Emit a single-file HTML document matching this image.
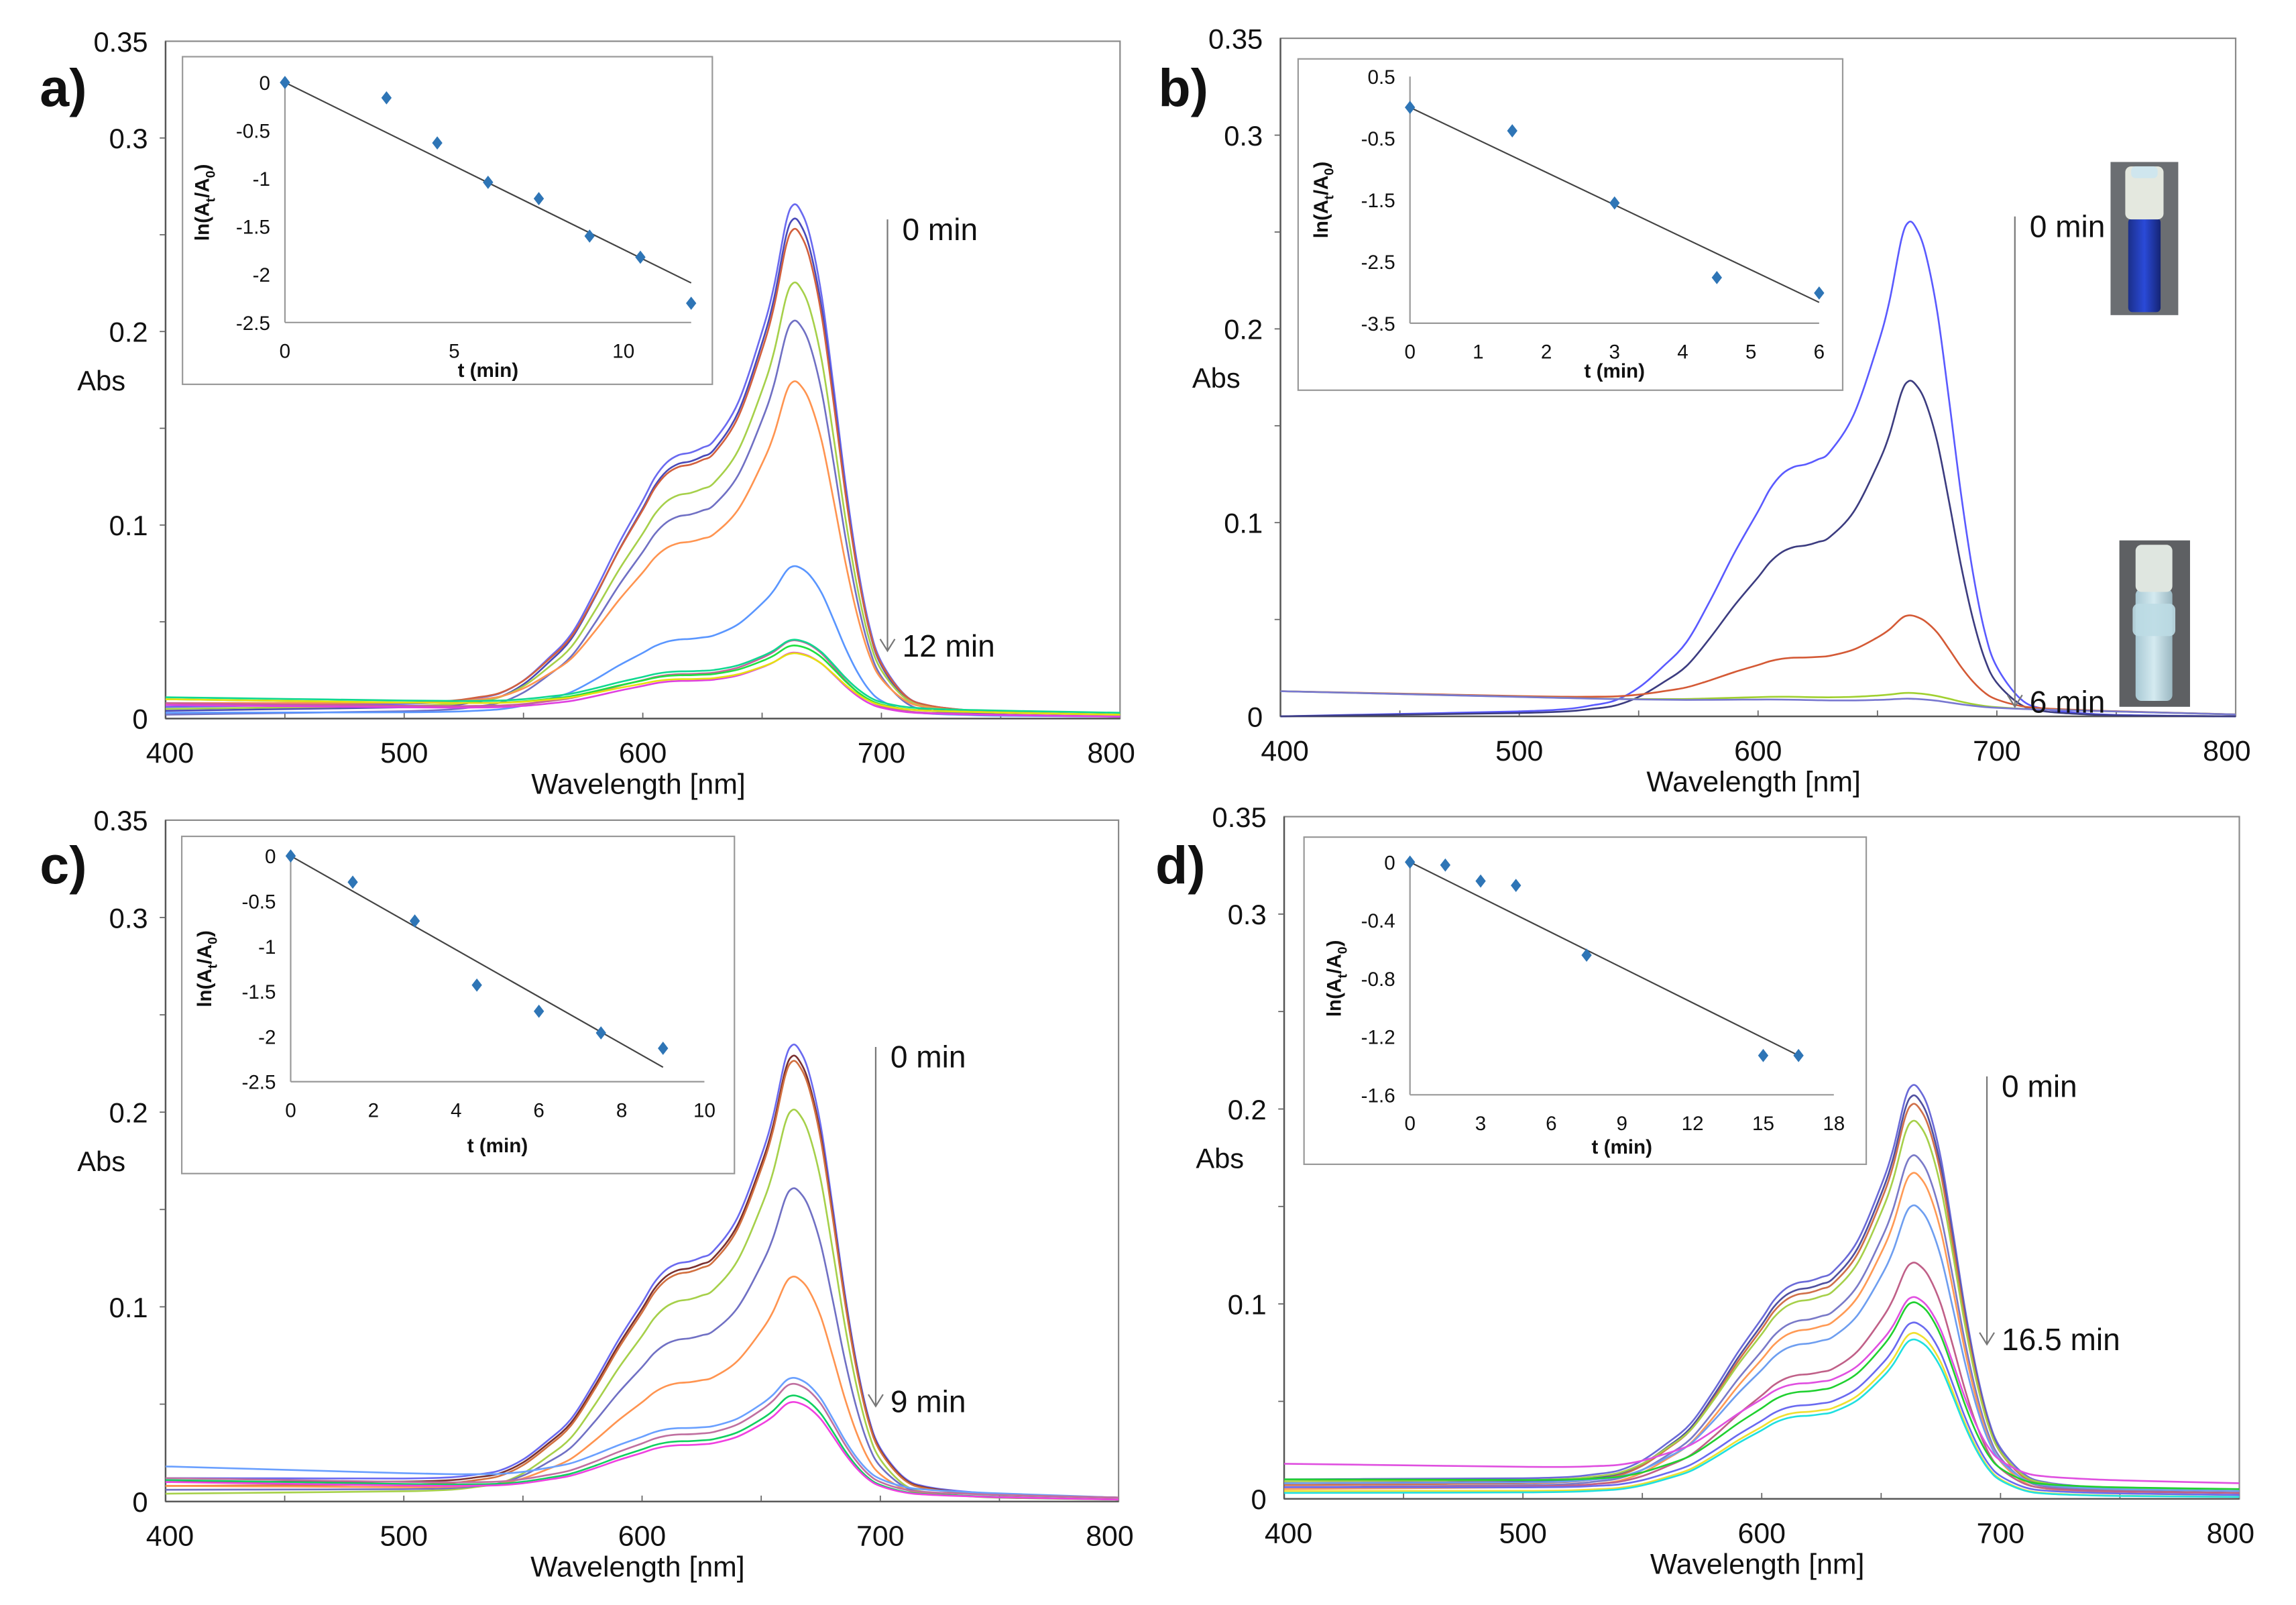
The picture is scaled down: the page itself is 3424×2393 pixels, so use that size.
<!DOCTYPE html>
<html><head><meta charset="utf-8"><style>
html,body{margin:0;padding:0;background:#fff;}
svg{display:block;}
text{font-family:"Liberation Sans",Arial,sans-serif;}
</style></head><body>
<svg id="fig" xmlns="http://www.w3.org/2000/svg" width="3424" height="2393" viewBox="0 0 1560 1090" preserveAspectRatio="none">
<rect x="0" y="0" width="1560" height="1090" fill="#fff"/>
<defs>
<linearGradient id="vialBlue" x1="0" y1="0" x2="1" y2="0"><stop offset="0" stop-color="#1b2f8a"/><stop offset="0.5" stop-color="#2a4ad8"/><stop offset="1" stop-color="#152474"/></linearGradient>
<linearGradient id="vialPale" x1="0" y1="0" x2="1" y2="0"><stop offset="0" stop-color="#a9c9d4"/><stop offset="0.5" stop-color="#d4eaf0"/><stop offset="1" stop-color="#9bb8c2"/></linearGradient>
</defs>
<g id="vials">
 <rect x="1434" y="110" width="46" height="104" fill="#6b6e72"/>
 <rect x="1446" y="148" width="22" height="64" rx="3" fill="url(#vialBlue)"/>
 <rect x="1444" y="113" width="26" height="36" rx="4" fill="#e4e8df"/>
 <rect x="1448" y="113" width="18" height="8" rx="3" fill="#cfe6ee"/>
 <rect x="1440" y="367" width="48" height="113" fill="#5e6063"/>
 <rect x="1451" y="400" width="25" height="76" rx="4" fill="url(#vialPale)"/>
 <rect x="1451" y="370" width="25" height="32" rx="4" fill="#dfe6e0"/>
 <rect x="1449" y="410" width="29" height="22" rx="4" fill="#bcdbe4" opacity="0.9"/>
</g>
</svg>
<script>
// ---------- common spectral shape ----------
const wl = [400,450,500,520,530,540,550,560,570,580,590,600,605,610,615,620,625,630,640,650,655,660,663,666,670,675,680,685,690,695,700,710,720,740,760,800];
const bandShape = [0,0.005,0.01,0.015,0.022,0.032,0.058,0.1,0.15,0.235,0.33,0.415,0.46,0.49,0.505,0.51,0.52,0.535,0.61,0.75,0.84,0.965,1.0,0.99,0.94,0.82,0.64,0.45,0.29,0.17,0.1,0.035,0.015,0.005,0.002,0];

// ---------- panel a ----------
const aPeaks = [0.262,0.256,0.249,0.222,0.204,0.170,0.077,0.037,0.035,0.033,0.031,0.029];
const aBase400 = [0.006,0.004,0.007,0.005,0.002,0.008,0.003,0.008,0.011,0.010,0.007,0.010];
const aBase800 = [0.002,0.001,0.002,0.002,0.001,0.002,0.001,0.001,0.003,0.002,0.001,0.002];
const aT = [0,3,4.5,6,7.5,9,10.5,12];
const aLn = [0,-0.16,-0.63,-1.04,-1.21,-1.6,-1.82,-2.3];
const aFit = [0,-0.174];
// ---------- panel b ----------
const bPeaks = [0.255,0.173,0.047,0.007,0.004];
const bBase400 = [0.000,0.000,0.013,0.013,0.013];
const bBase800 = [0.000,0.000,0.001,0.001,0.001];
const bT = [0,1.5,3,4.5,6];
const bLn = [0,-0.38,-1.55,-2.76,-3.01];
const bFit = [0,-0.527];
// ---------- panel c ----------
const cPeaks = [0.229,0.224,0.222,0.199,0.158,0.112,0.056,0.055,0.050,0.047];
const cBase400 = [0.012,0.010,0.008,0.004,0.006,0.008,0.018,0.012,0.011,0.010];
const cBase800 = [0.002,0.002,0.002,0.001,0.001,0.001,0.002,0.002,0.001,0.001];
const cT = [0,1.5,3,4.5,6,7.5,9];
const cLn = [0,-0.29,-0.72,-1.43,-1.72,-1.96,-2.13];
const cFit = [0,-0.26];
// ---------- panel d ----------
const dPeaks = [0.206,0.202,0.198,0.188,0.172,0.164,0.145,0.117,0.094,0.092,0.087,0.083,0.080];
const dBase400 = [0.010,0.008,0.007,0.009,0.006,0.005,0.008,0.006,0.010,0.018,0.006,0.004,0.003];
const dBase800 = [0.004,0.003,0.003,0.004,0.003,0.002,0.004,0.003,0.005,0.008,0.002,0.001,0.001];
const dT = [0,1.5,3,4.5,7.5,15,16.5];
const dLn = [0,-0.02,-0.13,-0.16,-0.64,-1.33,-1.33];
const dFit = [0,-0.0806];

const NS = 'http://www.w3.org/2000/svg';
const svg = document.getElementById('fig');
function mk(tag, attrs, parent){
  const e = document.createElementNS(NS, tag);
  for (const k in attrs) e.setAttribute(k, attrs[k]);
  (parent||svg).appendChild(e);
  return e;
}
function txt(parent, x, y, s, size, anchor, weight){
  const t = mk('text', {x:x, y:y, 'font-size':size, 'text-anchor':anchor||'start', 'font-weight':weight||'normal', fill:'#111'}, parent);
  t.textContent = s;
  return t;
}
function smoothPath(p){
  let d = 'M' + p[0][0].toFixed(2) + ',' + p[0][1].toFixed(2);
  for (let i=0;i<p.length-1;i++){
    const p0 = p[Math.max(0,i-1)], p1 = p[i], p2 = p[i+1], p3 = p[Math.min(p.length-1,i+2)];
    const c1x = p1[0] + (p2[0]-p0[0])/6, c1y = p1[1] + (p2[1]-p0[1])/6;
    const c2x = p2[0] - (p3[0]-p1[0])/6, c2y = p2[1] - (p3[1]-p1[1])/6;
    d += ' C' + c1x.toFixed(2)+','+c1y.toFixed(2)+' '+c2x.toFixed(2)+','+c2y.toFixed(2)+' '+p2[0].toFixed(2)+','+p2[1].toFixed(2);
  }
  return d;
}

function drawPanel(P){
  const g = mk('g', {});
  
  
  const X = v => P.x0 + (v-400)/400*(P.x1-P.x0);
  const Y = v => P.y0 - v/0.35*(P.y0-P.yTop);
  const fr = mk('rect', {x:P.x0, y:P.yTop, width:P.x1-P.x0, height:P.y0-P.yTop, fill:'none', stroke:'#8a8a8a', 'stroke-width':1}, g);
  
  
  mk('line', {x1:P.x0, y1:P.yTop, x2:P.x0, y2:P.y0, stroke:'#555', 'stroke-width':1.1}, g);
  mk('line', {x1:P.x0, y1:P.y0, x2:P.x1, y2:P.y0, stroke:'#555', 'stroke-width':1.1}, g);
  const yt = [0,0.1,0.2,0.3,0.35];
  const ytl = ['0','0.1','0.2','0.3','0.35'];
  for (let v=0.05; v<0.35; v+=0.05) mk('line', {x1:P.x0-4, y1:Y(v), x2:P.x0, y2:Y(v), stroke:'#666', 'stroke-width':0.8}, g);
  yt.forEach((v,i)=>{
    const t = txt(g, P.x0-12, Y(v)+7, ytl[i], 19, 'end');
    
    
  });
  const yl = txt(g, P.x0-60, Y(0.175)+7, 'Abs', 19, 'start');
  
  
  for (let v=450; v<800; v+=50) mk('line', {x1:X(v), y1:P.y0, x2:X(v), y2:P.y0-4, stroke:'#666', 'stroke-width':0.8}, g);
  [400,500,600,700,800].forEach(v=>{
    let cx = X(v); if (v===400) cx += 3; if (v===800) cx -= 6;
    const t = txt(g, cx, P.y0+30, String(v), 19.5, 'middle');
    
    
  });
  const xl = txt(g, (P.x0+P.x1)/2 - 3, P.y0+51, 'Wavelength [nm]', 19.5, 'middle');
  
  
  const pl = txt(g, P.labX, P.labY, P.id + ')', 36, 'start', 'bold');
  
  
  P.peaks.forEach((pk,i)=>{
    const pts = wl.map((w,j)=>{
      const b = P.b400[i] + (P.b800[i]-P.b400[i])*(w-400)/400;
      return [X(w), Y(b + pk*bandShape[j])];
    });
    const pol = mk('path', {d:smoothPath(pts), fill:'none', stroke:P.colors[i % P.colors.length], 'stroke-width':1.2, 'stroke-linejoin':'round'}, g);
    
    
  });
  const ar = mk('g', {}, g);
  
  
  mk('line', {x1:P.arX, y1:P.arTop, x2:P.arX, y2:P.arBot, stroke:'#777', 'stroke-width':1}, ar);
  mk('polyline', {points:(P.arX-5)+','+(P.arBot-8)+' '+P.arX+','+P.arBot+' '+(P.arX+5)+','+(P.arBot-8), fill:'none', stroke:'#777', 'stroke-width':1}, ar);
  const t0 = txt(ar, P.arX+10, P.arTop+14, '0 min', 21, 'start');
  
  
  const t1 = txt(ar, P.arX+10, P.arBot+4, P.endLab, 21, 'start');
  
  
  const I = P.inset;
  const ig = mk('g', {}, g);
  
  
  mk('rect', {x:I.bx0, y:I.by0, width:I.bx1-I.bx0, height:I.by1-I.by0, fill:'#fff', stroke:'#999', 'stroke-width':1}, ig);
  const IX = t => I.px0 + (t-I.tMin)/(I.tMax-I.tMin)*(I.px1-I.px0);
  const IY = v => I.py0 + (I.yMax-v)/(I.yMax-I.yMin)*(I.py1-I.py0);
  mk('line', {x1:IX(I.tMin), y1:IY(I.yMax), x2:IX(I.tMin), y2:IY(I.yMin), stroke:'#999', 'stroke-width':1}, ig);
  mk('line', {x1:IX(I.tMin), y1:IY(I.yMin), x2:IX(I.tAxisEnd), y2:IY(I.yMin), stroke:'#999', 'stroke-width':1}, ig);
  I.yTicks.forEach(v=>{
    const t = txt(ig, IX(I.tMin)-10, IY(v)+5, String(v), 13.5, 'end');
    
    
  });
  I.xTicks.forEach(v=>{
    const t = txt(ig, IX(v), IY(I.yMin)+I.xTickDy, String(v), 13.5, 'middle');
    
    
  });
  const ixl = txt(ig, (IX(I.tMin)+IX(I.tAxisEnd))/2, IY(I.yMin)+I.xTitleDy, 't (min)', 13.5, 'middle', 'bold');
  
  
  const cy = (IY(I.yMax)+IY(I.yMin))/2;
  const iyl = mk('text', {x:0, y:0, 'font-size':13.5, 'font-weight':'bold', 'text-anchor':'middle', fill:'#111', transform:'translate('+(I.bx0+I.ylabDx)+','+cy+') rotate(-90)'}, ig);
  iyl.innerHTML = 'ln(A<tspan font-size="9" dy="4">t</tspan><tspan dy="-4">/A</tspan><tspan font-size="9" dy="4">0</tspan><tspan dy="-4">)</tspan>';
  
  
  const tEnd = I.t[I.t.length-1];
  const fl = mk('line', {x1:IX(0), y1:IY(I.fit[0]), x2:IX(tEnd), y2:IY(I.fit[0]+I.fit[1]*tEnd), stroke:'#444', 'stroke-width':1}, ig);
  
  
  I.t.forEach((t,i)=>{
    const x = IX(t), y = IY(I.ln[i]);
    const d = mk('polygon', {points:x+','+(y-4.5)+' '+(x+3.5)+','+y+' '+x+','+(y+4.5)+' '+(x-3.5)+','+y, fill:'#2e75b6'}, ig);
    
    
  });
}

const colA = ['#6a6af0','#4a4ab8','#d2603e','#a6d04a','#7070c4','#ff9450','#5a96ff','#c8609a','#10d890','#20e040','#e040e0','#e6e010'];
const colB = ['#5a5aff','#3c3c80','#d45a36','#a0d030','#7878d0'];
const colC = ['#6a6af0','#7a3030','#d27040','#a6d04a','#7070c4','#ff9450','#6aa0ff','#c070a0','#10d060','#f040e0'];
const colD = ['#6a6ad8','#5050a0','#d0704a','#a6d04a','#7a7ac8','#ff9a55','#6e9ef0','#c06088','#20d030','#e050e0','#6a6af0','#f0e030','#20e0e0'];

drawPanel({id:'a', x0:112.5, x1:761, yTop:28, y0:488, labX:27, labY:72, peaks:aPeaks, b400:aBase400, b800:aBase800, colors:colA,
  arX:603, arTop:149, arBot:442, endLab:'12 min',
  inset:{bx0:124,bx1:484,by0:38.5,by1:261, px0:193.6, px1:423.6, tMin:0, tMax:10, tAxisEnd:12, py0:56, py1:219, yMax:0, yMin:-2.5,
    yTicks:[0,-0.5,-1,-1.5,-2,-2.5], xTicks:[0,5,10], xTickDy:24, xTitleDy:37, ylabDx:18, t:aT, ln:aLn, fit:aFit}});
drawPanel({id:'b', x0:870, x1:1519, yTop:26, y0:486.5, labX:787, labY:72, peaks:bPeaks, b400:bBase400, b800:bBase800, colors:colB,
  arX:1369, arTop:147, arBot:480, endLab:'6 min',
  inset:{bx0:882,bx1:1252,by0:40,by1:265, px0:958, px1:1236, tMin:0, tMax:6, tAxisEnd:6, py0:52, py1:219.5, yMax:0.5, yMin:-3.5,
    yTicks:[0.5,-0.5,-1.5,-2.5,-3.5], xTicks:[0,1,2,3,4,5,6], xTickDy:24, xTitleDy:37, ylabDx:20, t:bT, ln:bLn, fit:bFit}});
drawPanel({id:'c', x0:112.5, x1:760, yTop:557, y0:1019.7, labX:27, labY:600, peaks:cPeaks, b400:cBase400, b800:cBase800, colors:colC,
  arX:595, arTop:711, arBot:955, endLab:'9 min',
  inset:{bx0:123.5,bx1:499,by0:568,by1:797, px0:197.5, px1:478.6, tMin:0, tMax:10, tAxisEnd:10, py0:581.3, py1:734.6, yMax:0, yMin:-2.5,
    yTicks:[0,-0.5,-1,-1.5,-2,-2.5], xTicks:[0,2,4,6,8,10], xTickDy:24, xTitleDy:48, ylabDx:20, t:cT, ln:cLn, fit:cFit}});
drawPanel({id:'d', x0:872.5, x1:1521.5, yTop:554.6, y0:1017.9, labX:785, labY:600, peaks:dPeaks, b400:dBase400, b800:dBase800, colors:colD,
  arX:1350, arTop:731, arBot:913, endLab:'16.5 min',
  inset:{bx0:886,bx1:1268,by0:568.5,by1:790.7, px0:958, px1:1246, tMin:0, tMax:18, tAxisEnd:18, py0:585.5, py1:743.5, yMax:0, yMin:-1.6,
    yTicks:[0,-0.4,-0.8,-1.2,-1.6], xTicks:[0,3,6,9,12,15,18], xTickDy:24, xTitleDy:40, ylabDx:25, t:dT, ln:dLn, fit:dFit}});
svg.appendChild(document.getElementById('vials'));
</script>
</body></html>
